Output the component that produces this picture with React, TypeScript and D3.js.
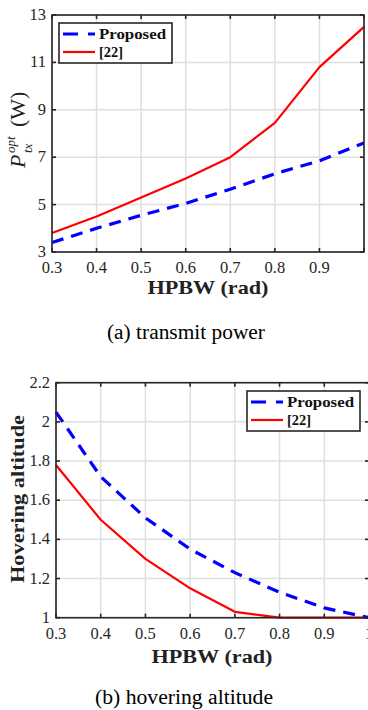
import React from 'react';
import * as d3 from 'd3';

// --- DATA ---
const hpbw = [0.3, 0.4, 0.5, 0.6, 0.7, 0.8, 0.9, 1.0];

// (a) transmit power (W)
const powerProposed = [3.4, 4.0, 4.55, 5.05, 5.65, 6.3, 6.85, 7.6];
const powerRef22 = [3.8, 4.5, 5.3, 6.1, 7.0, 8.45, 10.8, 12.5];

// (b) hovering altitude
const altProposed = [2.05, 1.72, 1.51, 1.35, 1.23, 1.13, 1.05, 1.0];
const altRef22 = [1.78, 1.5, 1.3, 1.15, 1.03, 1.0, 1.0, 1.0];

const xTicks = [0.3, 0.4, 0.5, 0.6, 0.7, 0.8, 0.9, 1.0];
const xTickLabelsA = ['0.3', '0.4', '0.5', '0.6', '0.7', '0.8', '0.9', ''];
const xTickLabelsB = ['0.3', '0.4', '0.5', '0.6', '0.7', '0.8', '0.9', '1'];
const powerTicks = [3, 5, 7, 9, 11, 13];
const altTicks = [1, 1.2, 1.4, 1.6, 1.8, 2, 2.2];

const legendNames = ['Proposed', '[22]'];

const SERIF = 'Liberation Serif, Times New Roman, serif';
const BLUE = '#0000ff';
const RED = '#ff0000';
const AXIS = '#262626';
const GRID = '#dfdfdf';

interface PanelProps {
  left: number;
  right: number;
  top: number;
  bottom: number;
  yDomain: [number, number];
  yTicks: number[];
  yFmt: (v: number) => string;
  xLabels: string[];
  proposed: number[];
  ref22: number[];
  legendX: number;
  legendY: number;
}

const Panel: React.FC<PanelProps> = ({
  left, right, top, bottom, yDomain, yTicks, yFmt, xLabels, proposed, ref22, legendX, legendY
}) => {
  const x = d3.scaleLinear().domain([0.3, 1.0]).range([left, right]);
  const y = d3.scaleLinear().domain(yDomain).range([bottom, top]);
  const line = d3.line<number>().x((_, i) => x(hpbw[i])).y(d => y(d));
  const tick = 4;

  return (
    <g>
      {/* grid */}
      {xTicks.map(t => (
        <line key={'gx' + t} x1={x(t)} x2={x(t)} y1={top} y2={bottom} stroke={GRID} strokeWidth={1.5} />
      ))}
      {yTicks.map(t => (
        <line key={'gy' + t} x1={left} x2={right} y1={y(t)} y2={y(t)} stroke={GRID} strokeWidth={1.5} />
      ))}

      {/* series */}
      <path d={line(ref22) || ''} fill="none" stroke={RED} strokeWidth={2.2} strokeLinejoin="round" />
      <path d={line(proposed) || ''} fill="none" stroke={BLUE} strokeWidth={3.2} strokeDasharray="12 8" />

      {/* box + ticks */}
      <rect x={left} y={top} width={right - left} height={bottom - top} fill="none" stroke={AXIS} strokeWidth={1.6} />
      {xTicks.map(t => (
        <g key={'tx' + t}>
          <line x1={x(t)} x2={x(t)} y1={bottom} y2={bottom - tick} stroke={AXIS} strokeWidth={1.6} />
          <line x1={x(t)} x2={x(t)} y1={top} y2={top + tick} stroke={AXIS} strokeWidth={1.6} />
        </g>
      ))}
      {yTicks.map(t => (
        <g key={'ty' + t}>
          <line x1={left} x2={left + tick} y1={y(t)} y2={y(t)} stroke={AXIS} strokeWidth={1.6} />
          <line x1={right} x2={right - tick} y1={y(t)} y2={y(t)} stroke={AXIS} strokeWidth={1.6} />
        </g>
      ))}

      {/* tick labels */}
      {xTicks.map((t, i) => (
        <text key={'lx' + t} x={x(t)} y={bottom + 21} textAnchor="middle" fontFamily={SERIF} fontSize={16.5} fill={AXIS}>
          {xLabels[i]}
        </text>
      ))}
      {yTicks.map(t => (
        <text key={'ly' + t} x={left - 6} y={y(t) + 5} textAnchor="end" fontFamily={SERIF} fontSize={16.5} fill={AXIS}>
          {yFmt(t)}
        </text>
      ))}

      {/* legend */}
      <rect x={legendX} y={legendY} width={113} height={40} fill="#fff" stroke={AXIS} strokeWidth={1.6} />
      <line x1={legendX + 4} x2={legendX + 36} y1={legendY + 11} y2={legendY + 11} stroke={BLUE} strokeWidth={3.2} strokeDasharray="15 10" />
      <line x1={legendX + 4} x2={legendX + 36} y1={legendY + 29} y2={legendY + 29} stroke={RED} strokeWidth={2.2} />
      <text x={legendX + 40} y={legendY + 16} fontFamily={SERIF} fontWeight="bold" fontSize={15} textLength={67} lengthAdjust="spacingAndGlyphs" fill="#111">
        {legendNames[0]}
      </text>
      <text x={legendX + 40} y={legendY + 34} fontFamily={SERIF} fontWeight="bold" fontSize={15} textLength={24} lengthAdjust="spacingAndGlyphs" fill="#111">
        {legendNames[1]}
      </text>
    </g>
  );
};

export default function App() {
  return (
    <svg width={368} height={710} style={{ position: 'absolute', left: 0, top: 0, background: '#fff' }}>
      {/* (a) transmit power */}
      <Panel
        left={52} right={364} top={15} bottom={252}
        yDomain={[3, 13]} yTicks={powerTicks} yFmt={v => String(v)}
        xLabels={xTickLabelsA} proposed={powerProposed} ref22={powerRef22}
        legendX={59} legendY={23}
      />
      <g transform="translate(25,130) rotate(-90)" fontFamily={SERIF} fill="#222">
        <text x={-38} y={0} fontSize={22} fontStyle="italic">P</text>
        <text x={-23} y={-10} fontSize={13} fontStyle="italic">opt</text>
        <text x={-23} y={7} fontSize={13} fontStyle="italic">tx</text>
        <text x={3} y={0} fontSize={22}>(W)</text>
      </g>
      <text x={208} y={294} textAnchor="middle" fontFamily={SERIF} fontWeight="bold" fontSize={19} textLength={121} lengthAdjust="spacingAndGlyphs" fill="#222">
        HPBW (rad)
      </text>
      <text x={186} y={339} textAnchor="middle" fontFamily={SERIF} fontSize={20} textLength={158} lengthAdjust="spacingAndGlyphs" fill="#000">
        (a) transmit power
      </text>

      {/* (b) hovering altitude */}
      <Panel
        left={56} right={369} top={382.7} bottom={617.7}
        yDomain={[1, 2.2]} yTicks={altTicks} yFmt={v => d3.format('~g')(v)}
        xLabels={xTickLabelsB} proposed={altProposed} ref22={altRef22}
        legendX={247} legendY={391}
      />
      <text transform="translate(24,499) rotate(-90)" textAnchor="middle" fontFamily={SERIF} fontWeight="bold" fontSize={19} textLength={168} lengthAdjust="spacingAndGlyphs" fill="#222">
        Hovering altitude
      </text>
      <text x={212} y={663} textAnchor="middle" fontFamily={SERIF} fontWeight="bold" fontSize={19} textLength={121} lengthAdjust="spacingAndGlyphs" fill="#222">
        HPBW (rad)
      </text>
      <text x={184} y={704} textAnchor="middle" fontFamily={SERIF} fontSize={20} textLength={178} lengthAdjust="spacingAndGlyphs" fill="#000">
        (b) hovering altitude
      </text>
    </svg>
  );
}
